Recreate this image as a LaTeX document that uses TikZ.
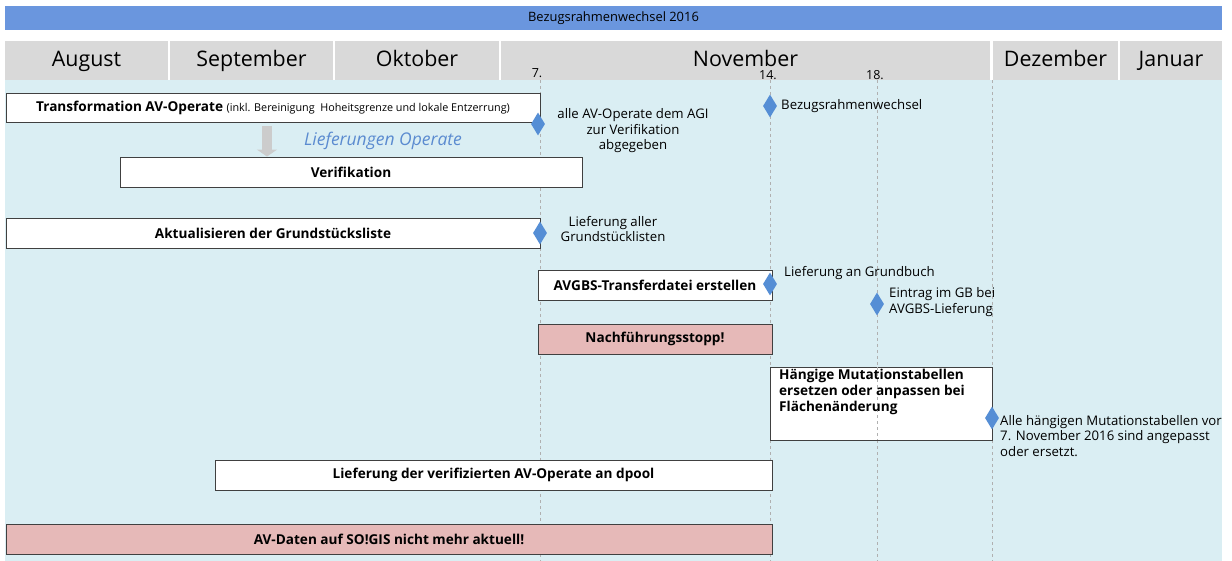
\documentclass[tikz,border=0pt]{standalone}
\usepackage{fontspec}
\setmainfont{Open Sans}
\usetikzlibrary{arrows.meta, shapes.geometric}

\definecolor{barblue}{HTML}{6A96DE}
\definecolor{headgrey}{HTML}{D9D9D9}
\definecolor{bodyblue}{HTML}{DAEEF3}
\definecolor{msblue}{HTML}{558ED5}
\definecolor{stoppink}{HTML}{E6B9B8}
\definecolor{boxgrey}{HTML}{404040}
\definecolor{linegrey}{HTML}{B0B0B0}
\definecolor{feedgrey}{HTML}{CCCCCC}
\definecolor{labelblue}{HTML}{5B8BD0}

\begin{document}
\begin{tikzpicture}[x=1pt, y=-1pt,
  bar/.style={draw=boxgrey, fill=white, line width=0.9pt, minimum height=30pt, inner sep=0pt,
              font=\fontsize{13.6}{16}\selectfont\bfseries},
  stopbar/.style={bar, fill=stoppink},
  month/.style={fill=headgrey, minimum height=39pt, inner sep=0pt, font=\fontsize{21.4}{24}\selectfont},
  ms/.style={diamond, fill=msblue, inner sep=0pt, minimum width=14pt, minimum height=23pt, aspect=0.6},
  note/.style={font=\fontsize{13.2}{15.5}\selectfont, inner sep=0pt},
  day/.style={font=\fontsize{12.5}{14}\selectfont, inner sep=0pt},
  dayline/.style={dashed, draw=linegrey, line width=0.8pt},
  feed/.style={draw=feedgrey, line width=10pt, -{Triangle[width=20pt, length=7pt]}}
]
  \useasboundingbox (0,0) rectangle (1232,561);

  % heading and months
  \node[fill=barblue, minimum width=1217pt, minimum height=24pt, inner sep=0pt,
        font=\fontsize{12.9}{14}\selectfont] (title) at (613.5,18) {Bezugsrahmenwechsel 2016};
  \foreach \name/\cx/\w in {August/86.5/163, September/251.5/163, Oktober/417/164,
                            November/745.5/489, Dezember/1055.5/125, Januar/1171/102}
    \node[month, minimum width=\w pt, text depth=4pt] (m\name) at (\cx,60.5) {\name};
  \fill[bodyblue] (5,80) rectangle (1222,561);

  % days
  \foreach \x in {540, 770, 877, 992}
    \draw[dayline] (\x,80) -- (\x,561);
  \node[day] (d7)  at (537,73) {7.};
  \node[day] (d14) at (768,75) {14.};
  \node[day] (d18) at (875,75) {18.};

  \node[bar, minimum width=222pt, minimum height=73pt] (mut) at (881,403.5) {};
  \draw[dayline] (877,367) -- (877,440);

  % bars
  \node[bar, minimum width=534pt, minimum height=29pt] (trans) at (273,107.5)
    {Transformation AV-Operate {\mdseries\fontsize{10.8}{12}\selectfont (inkl. Bereinigung\ \ Hoheitsgrenze und lokale Entzerrung)}};
  \node[bar, minimum width=462pt] (veri)  at (351,172)   {Verifikation};
  \node[bar, minimum width=534pt] (grund) at (273,233)   {Aktualisieren der Grundstücksliste};
  \node[bar, minimum width=234pt] (avgbs) at (655,285)   {AVGBS-Transferdatei erstellen};
  \node[stopbar, minimum width=234pt] (stopp) at (655,339) {Nachführungsstopp!};
  \node[bar, minimum width=557pt] (dpool) at (493.5,475) {Lieferung der verifizierten AV-Operate an dpool};
  \node[stopbar, minimum width=766pt] (sogis) at (389,539) {AV-Daten auf SO!GIS nicht mehr aktuell!};
  \node[anchor=north west, align=left, inner sep=0pt, font=\fontsize{13.6}{16}\selectfont\bfseries]
    (muttext) at (779,368.5) {Hängige Mutationstabellen\\ersetzen oder anpassen bei\\Flächenänderung};

  \coordinate (feedtop) at (267,126);
  \draw[feed] (feedtop) -- (feedtop |- veri.north);
  \node[font=\fontsize{17.5}{20}\selectfont\itshape, text=labelblue] (feedlabel) at (383,141) {Lieferungen Operate};

  % milestones
  \node[ms] (ms1) at (538,124) {};
  \node[ms] (ms2) at (770,106) {};
  \node[ms] (ms3) at (540,233) {};
  \node[ms] (ms4) at (770,284) {};
  \node[ms] (ms5) at (877,304) {};
  \node[ms] (ms6) at (992,418) {};

  \node[note, align=center] (n1) at (633,131) {alle AV-Operate dem AGI\\zur Verifikation\\abgegeben};
  \node[note, anchor=west] (n2) at (781,106) {Bezugsrahmenwechsel};
  \node[note, align=center] (n3) at (613,229) {Lieferung aller\\Grundstücklisten};
  \node[note, anchor=west] (n4) at (784,273) {Lieferung an Grundbuch};
  \node[note, anchor=west, align=left] (n5) at (889,302) {Eintrag im GB bei\\AVGBS-Lieferung};
  \node[note, anchor=west, align=left] (n6) at (1000,436)
    {Alle hängigen Mutationstabellen vor\\7. November 2016 sind angepasst\\oder ersetzt.};
\end{tikzpicture}
\end{document}
